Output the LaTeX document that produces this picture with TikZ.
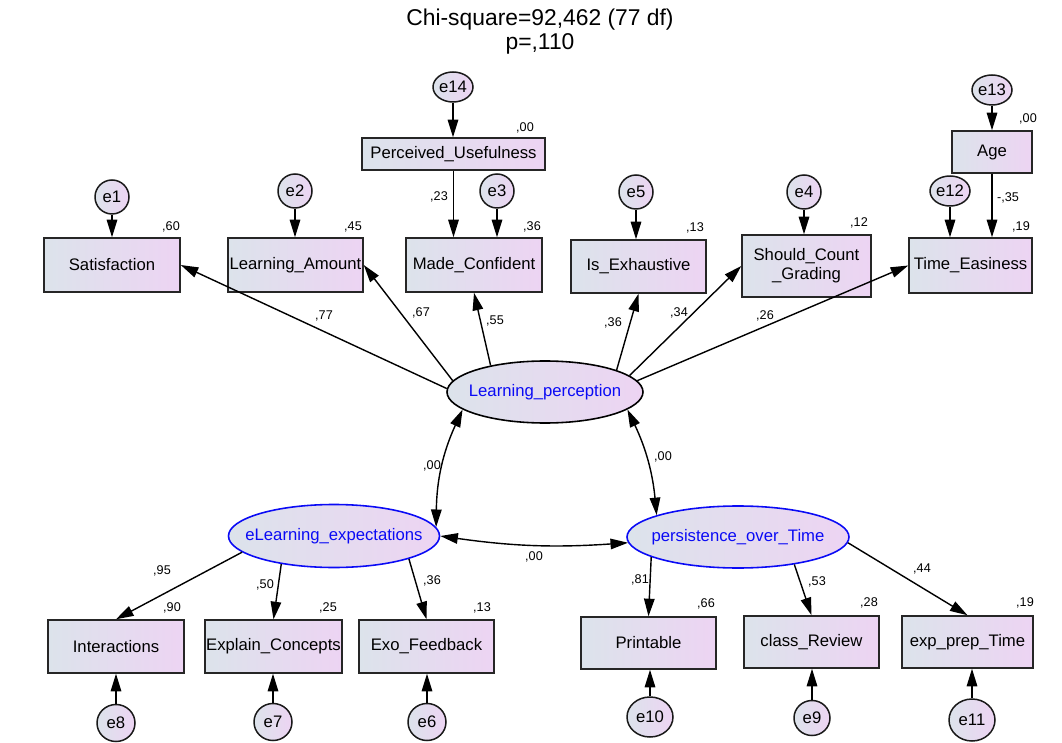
\documentclass[tikz,border=0pt]{standalone}
\usepackage{fontspec}
\setmainfont{Liberation Sans}
\usetikzlibrary{arrows.meta,shapes.geometric,calc}
\definecolor{gleft}{HTML}{DCE3EB}
\definecolor{gright}{HTML}{EDD4F3}
\definecolor{latblue}{HTML}{0A0AF5}
\begin{document}
\begin{tikzpicture}[x=0.02cm,y=-0.02cm,
  box/.style 2 args={draw=black!85, line width=0.85pt, left color=gleft, right color=gright, rectangle, inner sep=0pt, minimum width=#1*0.02cm, minimum height=#2*0.02cm, font=\fontsize{9.5}{11}\selectfont, align=center},
  err/.style 2 args={draw=black!90, line width=0.85pt, left color=gleft, right color=gright, ellipse, inner sep=0pt, minimum width=#1*0.02cm, minimum height=#2*0.02cm, font=\fontsize{9.5}{11}\selectfont},
  lat/.style 2 args={line width=0.9pt, left color=gleft, right color=gright, ellipse, inner sep=0pt, minimum width=#1*0.02cm, minimum height=#2*0.02cm, font=\fontsize{9.5}{11}\selectfont, text=latblue},
  num/.style={font=\fontsize{7.2}{8}\selectfont, inner sep=0pt},
  arr/.style={-{Triangle[length=10pt,width=6pt]}, line width=0.8pt},
  dbl/.style={{Triangle[length=10pt,width=6pt]}-{Triangle[length=10pt,width=6pt]}, line width=0.8pt}]
\useasboundingbox (0,0) rectangle (1062,743);

% title
\node[font=\fontsize{13}{15}\selectfont, inner sep=0pt] (t1) at (540,20) {Chi-square=92,462 (77 df)};
\node[font=\fontsize{13}{15}\selectfont, inner sep=0pt] (t2) at (540,44) {p=,110};

% observed
\node[box={136}{54}] (sat) at (112,265) {Satisfaction};
\node[box={135}{54}] (la) at (295.5,265) {Learning\_Amount};
\node[box={136}{54}] (mc) at (474,265) {Made\_Confident};
\node[box={135}{53}] (ie) at (638.5,266.5) {Is\_Exhaustive};
\node[box={129}{62}] (sc) at (806.5,266) {Should\_Count\\\_Grading};
\node[box={123}{55}] (te) at (970.5,265.5) {Time\_Easiness};
\node[box={183}{32}] (pu) at (453.5,154) {Perceived\_Usefulness};
\node[box={80}{42}] (age) at (992,152) {Age};
\node[box={136}{53}] (int) at (116,646.5) {Interactions};
\node[box={137}{53}] (ec) at (273.5,646.5) {Explain\_Concepts};
\node[box={135}{53}] (ef) at (426.5,646.5) {Exo\_Feedback};
\node[box={135}{52}] (pr) at (648.5,643) {Printable};
\node[box={135}{52}] (crv) at (811.5,642) {class\_Review};
\node[box={131}{52}] (ept) at (967.5,642) {exp\_prep\_Time};

% latent
\node[lat={196}{62}, draw=black] (lp) at (545,392) {\makebox[0pt]{Learning\_perception}};
\node[lat={211}{63}, draw=latblue] (ele) at (334,536) {\makebox[0pt]{eLearning\_expectations}};
\node[lat={222}{62}, draw=latblue] (pot) at (738,537) {\makebox[0pt]{persistence\_over\_Time}};

% errors
\node[err={34}{34}] (e1) at (112,197) {e1};
\node[err={34}{34}] (e2) at (295,191) {e2};
\node[err={34}{34}] (e3) at (497,191) {e3};
\node[err={34}{34}] (e5) at (636,192) {e5};
\node[err={34}{34}] (e4) at (804,192) {e4};
\node[err={40}{30}] (e12) at (950,191) {e12};
\node[err={40}{30}] (e13) at (992,90) {e13};
\node[err={40}{30}] (e14) at (453,87) {e14};
\node[err={38}{37}] (e8) at (116,723) {e8};
\node[err={38}{37}] (e7) at (273,722) {e7};
\node[err={38}{37}] (e6) at (427,722) {e6};
\node[err={46}{40}] (e10) at (650,717) {e10};
\node[err={36}{35}] (e9) at (812,718) {e9};
\node[err={46}{42}] (e11) at (972,720) {e11};

% error arrows
\draw[arr] (e1) -- (e1 |- sat.north);
\draw[arr] (e2) -- (e2 |- la.north);
\draw[arr] (e3) -- (e3 |- mc.north);
\draw[arr] (e5) -- (e5 |- ie.north);
\draw[arr] (e4) -- (e4 |- sc.north);
\draw[arr] (e12) -- (e12 |- te.north);
\draw[arr] (e13) -- (e13 |- age.north);
\draw[arr] (e14) -- (e14 |- pu.north);
\draw[arr] (age.south) -- (age.south |- te.north);
\draw[arr] (pu.south) -- (pu.south |- mc.north);
\draw[arr] (e8) -- (e8 |- int.south);
\draw[arr] (e7) -- (e7 |- ec.south);
\draw[arr] (e6) -- (e6 |- ef.south);
\draw[arr] (e10) -- (e10 |- pr.south);
\draw[arr] (e9) -- (e9 |- crv.south);
\draw[arr] (e11) -- (e11 |- ept.south);

% loadings
\draw[arr] (lp.178) -- (sat.east);
\draw[arr] (lp.173) -- (la.east);
\draw[arr] (lp.154) -- (mc.south);
\draw[arr] (lp.17) -- (ie.south);
\draw[arr] (lp.11) -- (sc.west);
\draw[arr] (lp.7) -- (te.west);
\draw[arr] (ele.190) -- (int.north);
\draw[arr] (ele.208) -- (ec.north);
\draw[arr] (ele.-17) -- (ef.north);
\draw[arr] (pot.193) -- (pr.north);
\draw[arr] (pot.-26) -- (crv.north);
\draw[arr] (pot.-3) -- (ept.north);

% covariances
\draw[dbl] (lp.192) to[bend right=12] (ele.5);
\draw[dbl] (lp.-12) to[bend left=10] (pot.165);
\draw[dbl] (ele.east) to[bend right=6] (pot.183);

% coefficient labels
\node[num] (l77) at (324,316) {,77};
\node[num] (l67) at (421,313) {,67};
\node[num] (l55) at (495,321) {,55};
\node[num] (l36a) at (613,323) {,36};
\node[num] (l34) at (679,313) {,34};
\node[num] (l26) at (765,316) {,26};
\node[num] (l23) at (439,197) {,23};
\node[num] (l35) at (1008,198) {-,35};
\node[num] (c1) at (432,466) {,00};
\node[num] (c2) at (663,457) {,00};
\node[num] (c3) at (534,557) {,00};
\node[num] (l95) at (162,571) {,95};
\node[num] (l50) at (265,585) {,50};
\node[num] (l36b) at (432,581) {,36};
\node[num] (l81) at (640,580) {,81};
\node[num] (l53) at (817,582) {,53};
\node[num] (l44) at (922,569) {,44};

% squared multiple correlations
\node[num] (r60) at (171,227) {,60};
\node[num] (r45) at (353,227) {,45};
\node[num] (r36) at (532,227) {,36};
\node[num] (r13) at (695,228) {,13};
\node[num] (r12) at (859,223) {,12};
\node[num] (r19a) at (1021,227) {,19};
\node[num] (r00a) at (1028,119) {,00};
\node[num] (r00b) at (525,128) {,00};
\node[num] (r90) at (172,608) {,90};
\node[num] (r25) at (328,608) {,25};
\node[num] (r13b) at (482,608) {,13};
\node[num] (r66) at (706,604) {,66};
\node[num] (r28) at (869,603) {,28};
\node[num] (r19b) at (1025,603) {,19};
\end{tikzpicture}
\end{document}
